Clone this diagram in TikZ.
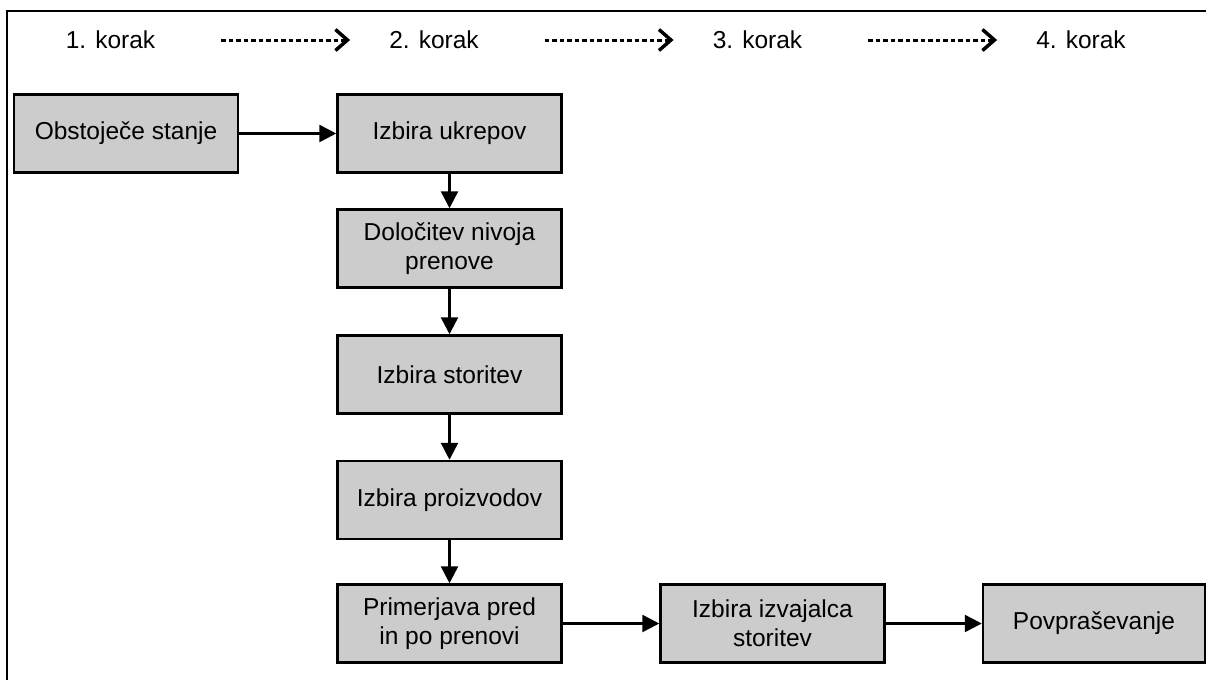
\documentclass[tikz,border=0pt]{standalone}
\usepackage{fontspec}
\setmainfont{Liberation Sans}
\usetikzlibrary{arrows.meta}
\definecolor{boxgray}{RGB}{204,204,204}
\begin{document}
\begin{tikzpicture}[x=1pt, y=-1pt,
	korakbox/.style={rectangle, draw, line width=2.5pt, fill=boxgray, minimum width=224pt,
		minimum height=78pt, align=center, inner sep=0pt, font=\fontsize{24.5}{29}\selectfont},
	korak/.style={inner sep=0pt, font=\fontsize{24.5}{29}\selectfont},
	tok/.style={line width=2.5pt, -{Triangle[length=17pt, width=17pt]}},
	naprej/.style={line width=3pt, dash pattern=on 4.5pt off 3pt, shorten <=66pt, shorten >=39pt,
		-{Straight Barb[length=12pt, width=21pt, line width=3.5pt]}}]
	
	\useasboundingbox (0,0) rectangle (1206,680);
	
	%Frame
	\draw[line width=2.5pt] (7,680) -- (7,11) -- (1206,11);
	
	%Steps
	\node (Korak1) at (110.5,40) [korak]{1. korak};
	\node (Korak2) at (434,40) [korak]{2. korak};
	\node (Korak3) at (757.5,40) [korak]{3. korak};
	\node (Korak4) at (1081,40) [korak]{4. korak};
	
	%Nodes
	\node (Obstojece) at (126,133.5) [korakbox]{Obstoječe stanje};
	\node (Ukrepi) at (449.5,133.5) [korakbox]{Izbira ukrepov};
	\node (Nivo) at (449.5,248.5) [korakbox]{Določitev nivoja\\prenove};
	\node (Storitve) at (449.5,374.5) [korakbox]{Izbira storitev};
	\node (Proizvodi) at (449.5,500) [korakbox]{Izbira proizvodov};
	\node (Primerjava) at (449.5,623.5) [korakbox]{Primerjava pred\\in po prenovi};
	\node (Izvajalec) at (772.5,623.5) [korakbox]{Izbira izvajalca\\storitev};
	\node (Povprasevanje) at (1094,623.5) [korakbox, minimum width=222pt]{Povpraševanje};
	
	%Links
	\draw[naprej] (Korak1) -- (Korak2);
	\draw[naprej] (Korak2) -- (Korak3);
	\draw[naprej] (Korak3) -- (Korak4);
	\draw[tok] (Obstojece) -- (Ukrepi);
	\draw[tok] (Ukrepi) -- (Nivo);
	\draw[tok] (Nivo) -- (Storitve);
	\draw[tok] (Storitve) -- (Proizvodi);
	\draw[tok] (Proizvodi) -- (Primerjava);
	\draw[tok] (Primerjava) -- (Izvajalec);
	\draw[tok] (Izvajalec) -- (Povprasevanje);
	
\end{tikzpicture}
\end{document}
